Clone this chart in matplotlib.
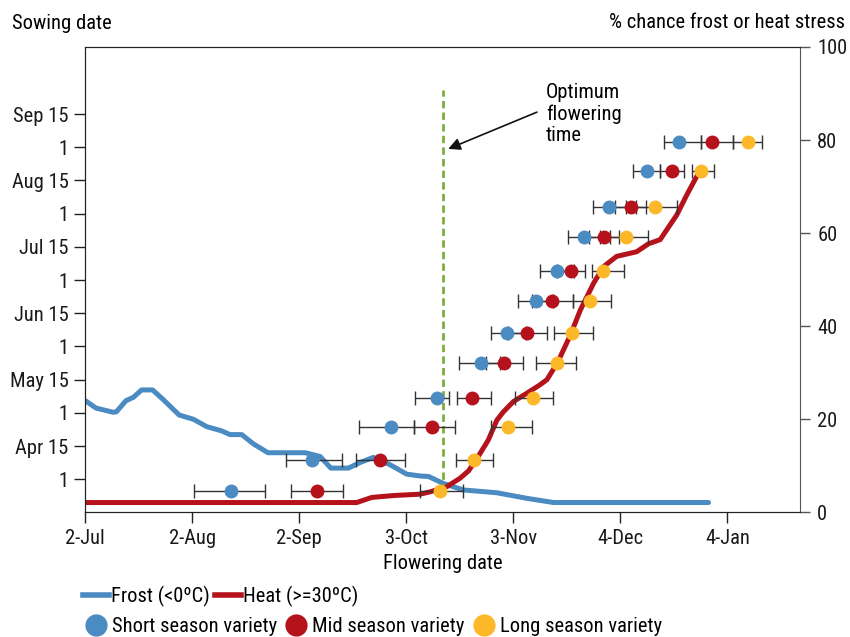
import numpy as np
import matplotlib.pyplot as plt
from matplotlib.lines import Line2D

plt.rcParams['font.family'] = ['Roboto Condensed', 'DejaVu Sans']
plt.rcParams['font.stretch'] = 'condensed'
plt.rcParams['font.size'] = 14.8

# x is counted in days after 2 July
xtick_days = [0, 31, 62, 93, 124, 155, 186]
xtick_labels = ['2-Jul', '2-Aug', '2-Sep', '3-Oct', '3-Nov', '4-Dec', '4-Jan']
sowing_labels = ['1', 'Apr 15', '1', 'May 15', '1', 'Jun 15',
                 '1', 'Jul 15', '1', 'Aug 15', '1', 'Sep 15']
pct_ticks = [0, 20, 40, 60, 80, 100]

# % chance of frost / heat stress by flowering date
frost_day = [0, 3.1, 8.1, 9.0, 11.8, 13.9, 16.3, 19.5, 22.6, 27.2, 31.3, 35.2, 39.5,
             41.9, 45.3, 48.7, 52.9, 63.7, 68.0, 71.1, 76.2, 79.6, 83.4, 88.3, 93.1,
             97.0, 99.4, 103.7, 109.5, 119.2, 127.9, 135.6, 180.5]
frost_pct = [24.0, 22.4, 21.5, 21.6, 24.0, 24.7, 26.3, 26.3, 24.2, 20.9, 20.0, 18.4, 17.5,
             16.7, 16.7, 14.7, 12.8, 12.8, 12.0, 9.5, 9.5, 10.7, 11.8, 10.2, 8.2,
             7.8, 7.7, 6.2, 4.8, 4.2, 3.0, 2.1, 2.1]
heat_day = [0, 78.6, 83.0, 89.2, 97.0, 99.9, 104.7, 108.5, 111.0, 113.8, 116.7, 119.2,
            121.1, 124.0, 127.9, 131.7, 133.7, 136.8, 140.5, 143.4, 147.2, 150.1, 153.9,
            159.7, 163.1, 166.5, 171.3, 174.2, 177.1, 178.1]
heat_pct = [2.1, 2.1, 3.2, 3.6, 3.9, 4.4, 5.5, 7.3, 8.9, 12.0, 15.5, 19.8,
            21.6, 23.8, 25.6, 27.4, 28.5, 32.2, 38.1, 43.5, 49.2, 52.8, 55.0,
            56.0, 57.7, 58.6, 63.9, 68.2, 72.2, 73.2]

# sowing rows (position on the sowing-date axis, 0 = 1 Apr)
row_y = [-0.34, 0.58, 1.57, 2.45, 3.49, 4.40, 5.38, 6.28, 7.31, 8.19, 9.30, 10.15]

short_day = [42.3, 65.7, 88.5, 101.8, 114.6, 122.2, 130.6, 136.7, 144.5, 151.7, 162.8, 172.0]
short_lo = [31.6, 58.1, 79.4, 95.5, 108.1, 117.5, 125.4, 131.7, 139.7, 147.0, 158.5, 167.7]
short_hi = [52.0, 74.4, 95.2, 105.4, 120.0, 127.5, 135.5, 141.5, 149.0, 156.5, 166.4, 178.4]

mid_day = [67.0, 85.3, 100.5, 112.1, 121.4, 128.0, 135.1, 140.7, 150.3, 158.1, 169.9, 181.6]
mid_lo = [59.7, 78.4, 95.2, 107.8, 116.0, 122.5, 129.5, 136.5, 146.0, 153.5, 166.4, 178.4]
mid_hi = [74.6, 92.7, 107.1, 117.4, 126.7, 133.8, 141.2, 144.8, 154.5, 162.5, 173.4, 187.7]

long_day = [102.8, 112.6, 122.5, 129.6, 136.7, 140.9, 146.2, 149.9, 156.6, 165.0, 178.4, 191.8]
long_lo = [97.0, 107.3, 117.4, 124.5, 130.6, 135.8, 141.2, 146.7, 152.0, 159.5, 175.7, 187.7]
long_hi = [109.3, 118.0, 129.5, 135.4, 142.1, 147.0, 152.2, 155.9, 162.9, 171.5, 182.2, 196.1]

optimum_day = 103.5

blue = '#4a8bc2'
red = '#b5121b'
yellow = '#fdb829'
green = '#77a935'
dark = '#222222'

fig = plt.figure(figsize=(8.5, 6.37), dpi=100)
ax = fig.add_axes([85.3 / 850, 1 - 512.3 / 637, (800 - 85.3) / 850, (512.3 - 47) / 637])
ax2 = ax.twinx()
ax.set_zorder(ax2.get_zorder() + 1)
ax.patch.set_visible(False)

# risk lines
ax2.plot(frost_day, frost_pct, color=blue, lw=3.6, solid_capstyle='round', solid_joinstyle='round')
ax2.plot(heat_day, heat_pct, color=red, lw=3.6, solid_capstyle='round', solid_joinstyle='round')
ax2.vlines(optimum_day, 4.6, 90.8, color=green, lw=1.9, linestyles=(0, (2.8, 1.6)))

ax2.text(133.4, 92.2, 'Optimum\nflowering\ntime', ha='left', va='top', linespacing=1.15)
ax2.annotate('', xy=(105.1, 78.1), xytext=(130.8, 86.0),
             arrowprops=dict(arrowstyle='-|>', color='#111111', lw=1.2,
                             mutation_scale=18, shrinkA=0, shrinkB=0))

# varieties: error bars first, then dots on top
varieties = [(short_day, short_lo, short_hi, blue),
             (mid_day, mid_lo, mid_hi, red),
             (long_day, long_lo, long_hi, yellow)]
for d, lo, hi, c in varieties:
    d = np.array(d)
    ax.errorbar(d, row_y, xerr=[d - np.array(lo), np.array(hi) - d], fmt='none',
                ecolor='#333333', elinewidth=1.0, capsize=4.7, capthick=1.0, zorder=2)
for d, lo, hi, c in varieties:
    ax.plot(d, row_y, 'o', ms=10, color=c, mec='none', zorder=3)

ax.set_xlim(0, 207.0)
ax.set_ylim(-0.994, 13.02)
ax2.set_ylim(0, 100)

ax.set_xticks(xtick_days)
ax.set_xticklabels(xtick_labels)
ax.set_yticks(range(len(sowing_labels)))
ax.set_yticklabels(sowing_labels)
ax2.set_yticks(pct_ticks)

ax.tick_params(axis='both', length=8, width=1.0, color=dark, pad=4, labelcolor='#1a1a1a')
ax2.tick_params(axis='y', length=7.5, width=1.0, color='#555555', pad=5, labelcolor='#1a1a1a')
for s in ['left', 'bottom', 'top']:
    ax.spines[s].set_color(dark)
    ax2.spines[s].set_color(dark)
ax.spines['right'].set_visible(False)
ax2.spines['right'].set_color('#555555')

ax.set_xlabel('Flowering date', labelpad=4)

fig.text(12 / 850, 1 - 29 / 637, 'Sowing date', ha='left', va='baseline')
fig.text(845 / 850, 1 - 28 / 637, '% chance frost or heat stress', ha='right', va='baseline')

line_handles = [Line2D([], [], color=blue, lw=4), Line2D([], [], color=red, lw=4)]
fig.legend(line_handles, ['Frost (<0ºC)', 'Heat (>=30ºC)'], loc='center left',
           bbox_to_anchor=(83 / 850, 1 - 596 / 637), ncol=2, frameon=False,
           borderpad=0, borderaxespad=0, handlelength=1.25, handletextpad=0.12,
           columnspacing=0.25)
dot_handles = [Line2D([], [], ls='none', marker='o', ms=16, color=c, mec='none')
               for c in [blue, red, yellow]]
fig.legend(dot_handles, ['Short season variety', 'Mid season variety', 'Long season variety'],
           loc='center left', bbox_to_anchor=(85.5 / 850, 1 - 627 / 637), ncol=3,
           frameon=False, borderpad=0, borderaxespad=0, handlelength=1.05,
           handletextpad=0.25, columnspacing=0.4)

fig.savefig('out.png', dpi=100)
